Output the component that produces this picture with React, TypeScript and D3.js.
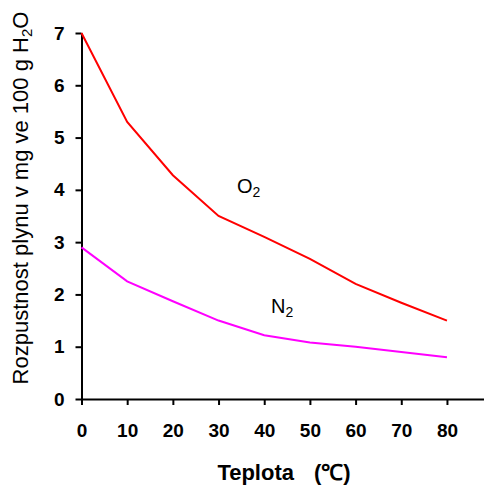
import React, { useEffect, useRef } from "react";
import * as d3 from "d3";

const temps = [0, 10, 20, 30, 40, 50, 60, 70, 80];
const oxygen = [7.0, 5.3, 4.28, 3.5, 3.1, 2.68, 2.2, 1.84, 1.5];
const nitrogen = [2.9, 2.25, 1.87, 1.5, 1.22, 1.08, 1.0, 0.9, 0.8];
const yTicks = [0, 1, 2, 3, 4, 5, 6, 7];
const xTicks = [0, 10, 20, 30, 40, 50, 60, 70, 80];

export default function App() {
  const svgRef = useRef<SVGSVGElement>(null);

  useEffect(() => {
    const w = 484;
    const h = 485;
    const svg = d3.select(svgRef.current).attr("width", w).attr("height", h);
    svg.selectAll("*").remove();

    // scales
    const x = d3.scaleLinear().domain([0, 88]).range([81.5, 483.5]);
    const y = d3.scaleLinear().domain([0, 7]).range([399, 33]);

    const font = "Arial, 'Liberation Sans', sans-serif";

    // axes
    const xAxis = d3.axisBottom(x).tickValues(xTicks).tickFormat(d3.format("d"))
      .tickSize(6).tickPadding(19).tickSizeOuter(0);
    const yAxis = d3.axisLeft(y).tickValues(yTicks).tickFormat(d3.format("d"))
      .tickSize(6).tickPadding(11).tickSizeOuter(0);

    const gx = svg.append("g").attr("transform", `translate(0,${y(0)})`).call(xAxis);
    const gy = svg.append("g").attr("transform", `translate(${x(0)},0)`).call(yAxis);

    [gx, gy].forEach((g) => {
      g.select(".domain").attr("stroke", "#000").attr("stroke-width", 2);
      g.selectAll(".tick line").attr("stroke", "#000").attr("stroke-width", 2);
      g.selectAll(".tick text")
        .attr("fill", "#000")
        .style("font-family", font)
        .style("font-size", "19px")
        .style("font-weight", "bold");
    });

    // lines
    const line = d3
      .line<number>()
      .x((d, i) => x(temps[i]))
      .y((d) => y(d));

    svg.append("path").datum(oxygen).attr("d", line).attr("fill", "none")
      .attr("stroke", "#ff0000").attr("stroke-width", 2);
    svg.append("path").datum(nitrogen).attr("d", line).attr("fill", "none")
      .attr("stroke", "#ff00ff").attr("stroke-width", 2);

    // series labels
    const label = (tx: number, ty: number, main: string) => {
      const t = svg.append("text").attr("x", tx).attr("y", ty)
        .style("font-family", font).style("font-size", "20px");
      t.append("tspan").text(main);
      t.append("tspan").attr("dy", 4).style("font-size", "14px").text("2");
    };
    label(237, 193, "O");
    label(271, 313, "N");

    // axis titles
    const xt = svg.append("text").attr("x", 284).attr("y", 480)
      .attr("text-anchor", "middle")
      .style("font-family", font).style("font-size", "22px").style("font-weight", "bold");
    xt.append("tspan").text("Teplota");
    xt.append("tspan").attr("dx", 20).text("(℃)");

    const yt = svg.append("text")
      .attr("transform", "translate(28,198) rotate(-90)")
      .attr("text-anchor", "middle")
      .style("font-family", font).style("font-size", "22px");
    yt.append("tspan").text("Rozpustnost plynu v mg ve 100 g H");
    yt.append("tspan").attr("dy", 4).style("font-size", "15px").text("2");
    yt.append("tspan").attr("dy", -4).text("O");
  }, []);

  return (
    <div style={{ position: "absolute", left: 0, top: 0 }}>
      <svg ref={svgRef} style={{ display: "block" }}></svg>
    </div>
  );
}
